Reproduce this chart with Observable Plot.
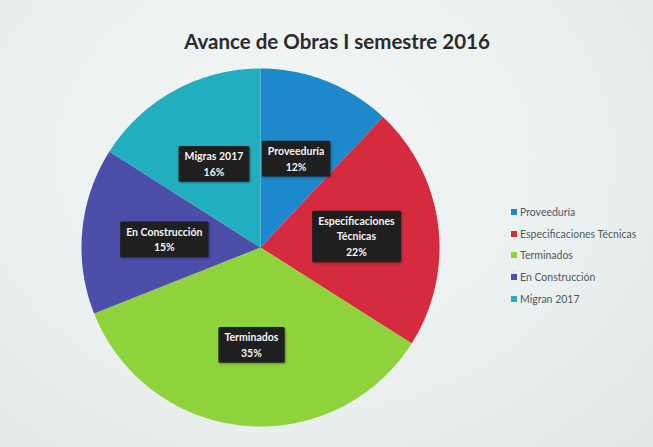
<!DOCTYPE html>
<html>
<head>
<meta charset="utf-8">
<script src="https://cdn.jsdelivr.net/npm/d3@7"></script>
<script src="https://cdn.jsdelivr.net/npm/@observablehq/plot@0.6"></script>
<style>
  html, body { margin: 0; padding: 0; background: #e9efee; }
  #wrap { position: relative; width: 653px; height: 447px; overflow: hidden;
          background: radial-gradient(ellipse at 45% 35%, #f3f6f6 0%, #eaf0ef 60%, #e1e8e7 100%); }
  #title { position: absolute; left: 337px; top: 29px; transform: translateX(-50%);
           font-family: Lato, "Open Sans", sans-serif; font-weight: bold; font-size: 20.5px;
           color: #2b2b2b; white-space: nowrap; }
  #legend { position: absolute; left: 511px; top: 201px; font-family: Lato, "Open Sans", sans-serif;
            font-size: 10.5px; color: #52585c; }
  #legend .row { height: 21.7px; display: flex; align-items: center; white-space: nowrap; }
  #legend .sw { width: 6px; height: 6px; margin-right: 3px; flex: none; }
  #chart { position: absolute; left: 0; top: 0; }
</style>
</head>
<body>
<div id="wrap">
  <div id="chart"></div>
  <div id="title"></div>
  <div id="legend"></div>
</div>
<script>
const chartTitle = "Avance de Obras I semestre 2016";
const categories = ["Proveeduría", "Especificaciones Técnicas", "Terminados", "En Construcción", "Migran 2017"];
const sliceLabels = ["Proveeduría", "Especificaciones\nTécnicas", "Terminados", "En Construcción", "Migras 2017"];
const values = [12, 22, 35, 15, 16];
const colors = ["#1d88cb", "#d62a3e", "#8fd33c", "#4c4eaa", "#21aebf"];

const W = 653, H = 447;
const cx = 260, cy = 247, R = 179;   // pie centre and radius in pixels (layout)
const labelRadius = 0.54;

const total = d3.sum(values);
const arcs = d3.pie().sort(null).value(d => d)(values);

// slice outlines in unit-radius coordinates (y up)
const slicePoints = [];
arcs.forEach((a, i) => {
  const name = categories[i];
  slicePoints.push({name, x: 0, y: 0});
  const n = Math.max(2, Math.ceil((a.endAngle - a.startAngle) / (Math.PI / 360)));
  for (let k = 0; k <= n; k++) {
    const t = a.startAngle + (a.endAngle - a.startAngle) * k / n;
    slicePoints.push({name, x: Math.sin(t), y: Math.cos(t)});
  }
  slicePoints.push({name, x: 0, y: 0});
});

const labelRows = arcs.map((a, i) => {
  const m = (a.startAngle + a.endAngle) / 2;
  return {
    name: categories[i],
    x: labelRadius * Math.sin(m),
    y: labelRadius * Math.cos(m),
    text: sliceLabels[i] + "\n" + Math.round(values[i] / total * 100) + "%"
  };
});

const chart = Plot.plot({
  width: W,
  height: H,
  margin: 0,
  style: {background: "transparent", overflow: "visible"},
  x: {domain: [-cx / R, (W - cx) / R], axis: null},
  y: {domain: [-(H - cy) / R, cy / R], axis: null},
  color: {domain: categories, range: colors},
  marks: [
    Plot.line(slicePoints, {x: "x", y: "y", z: "name", fill: "name", stroke: "none", curve: "linear"}),
    Plot.text(labelRows, {
      x: "x", y: "y", text: "text", fill: "#f4f4f4", fontWeight: "bold",
      fontSize: 10.5, lineHeight: 1.5, fontFamily: "Lato, 'Open Sans', sans-serif"
    })
  ]
});
document.getElementById("chart").appendChild(chart);

// dark label boxes behind the slice labels
const ns = "http://www.w3.org/2000/svg";
chart.querySelectorAll('g[aria-label="text"] text').forEach(t => {
  const b = t.getBBox();
  const r = document.createElementNS(ns, "rect");
  r.setAttribute("x", b.x - 6);
  r.setAttribute("y", b.y - 4);
  r.setAttribute("width", b.width + 12);
  r.setAttribute("height", b.height + 8);
  r.setAttribute("fill", "#1f1f1f");
  r.setAttribute("rx", 1.5);
  r.setAttribute("style", "filter: drop-shadow(1px 1px 1px rgba(0,0,0,0.35))");
  const tr = t.getAttribute("transform");
  if (tr) r.setAttribute("transform", tr);
  t.parentNode.insertBefore(r, t);
});

document.getElementById("title").textContent = chartTitle;

const colorScale = chart.scale("color");
const legend = document.getElementById("legend");
categories.forEach((c, i) => {
  const row = document.createElement("div");
  row.className = "row";
  const sw = document.createElement("span");
  sw.className = "sw";
  sw.style.background = colorScale.range[i];
  const tx = document.createElement("span");
  tx.textContent = c;
  row.appendChild(sw);
  row.appendChild(tx);
  legend.appendChild(row);
});
</script>
</body>
</html>
